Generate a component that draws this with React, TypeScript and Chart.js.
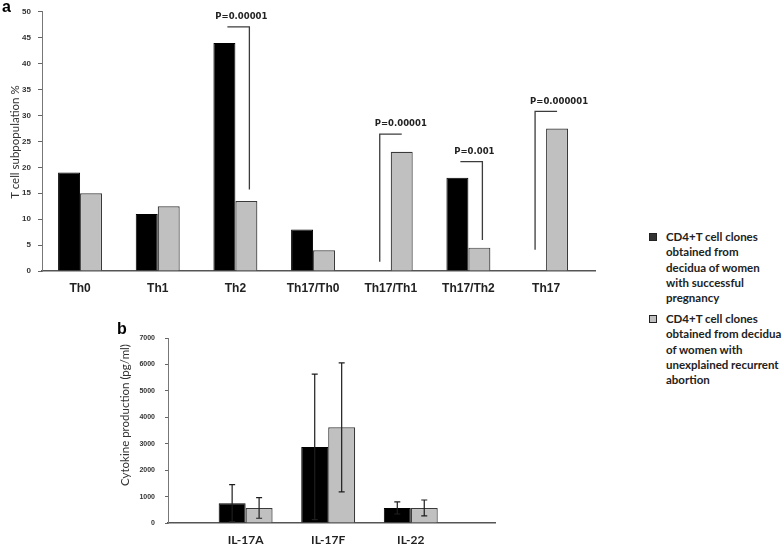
import React, { useEffect, useRef } from 'react';
import { Chart, registerables } from 'chart.js';

Chart.register(...registerables);

// ---------- data: panel a ----------
const subsets = ['Th0', 'Th1', 'Th2', 'Th17/Th0', 'Th17/Th1', 'Th17/Th2', 'Th17'];
const successfulPct = [19, 11, 44, 8, 0, 18, 0];
const abortionPct = [15, 12.5, 13.5, 4, 23, 4.5, 27.5];

// significance brackets (panel a)
const pLabels = ['P=0.00001', 'P=0.00001', 'P=0.001', 'P=0.000001'];
const pSubset = ['Th2', 'Th17/Th1', 'Th17/Th2', 'Th17'];
const pSide = ['abortion', 'successful', 'abortion', 'successful'];
const pTop = [47.1, 26.4, 21.1, 30.8];
const pBottom = [15.7, 1.8, 6.0, 4.1];

// ---------- data: panel b ----------
const cytokines = ['IL-17A', 'IL-17F', 'IL-22'];
const successfulCyto = [750, 2880, 570];
const successfulCytoErr = [700, 2750, 230];
const abortionCyto = [570, 3620, 570];
const abortionCytoErr = [390, 2440, 300];

// ---------- legend ----------
const legendSuccessful = ['CD4+T cell clones', 'obtained from', 'decidua of women', 'with successful', 'pregnancy'];
const legendAbortion = ['CD4+T cell clones', 'obtained from decidua', 'of women with', 'unexplained recurrent', 'abortion'];

const BLACK = '#000000';
const GRAY = '#c0c0c0';
const EDGE = '#3a3a3a';

const bracketPlugin = {
  id: 'pBrackets',
  afterDatasetsDraw(chart: any) {
    const { ctx } = chart;
    const y = chart.scales.y;
    const metaS = chart.getDatasetMeta(0);
    const metaA = chart.getDatasetMeta(1);
    ctx.save();
    pLabels.forEach((label, k) => {
      const i = subsets.indexOf(pSubset[k]);
      const dropRight = pSide[k] === 'abortion';
      const bar = (dropRight ? metaA : metaS).data[i];
      const vx = bar.x + (dropRight ? 3 : 0);
      const hx = dropRight ? vx - 22 : vx + 22;
      const yt = y.getPixelForValue(pTop[k]);
      const yb = y.getPixelForValue(pBottom[k]);
      ctx.strokeStyle = '#3c3c3c';
      ctx.lineWidth = 1.3;
      ctx.beginPath();
      ctx.moveTo(hx, yt);
      ctx.lineTo(vx, yt);
      ctx.lineTo(vx, yb);
      ctx.stroke();
      ctx.font = 'bold 8.5px "DejaVu Sans"';
      ctx.fillStyle = '#222';
      ctx.textBaseline = 'middle';
      if (dropRight) {
        ctx.textAlign = 'center';
        ctx.fillText(label, vx - 8, yt - 10);
      } else {
        ctx.textAlign = 'left';
        ctx.fillText(label, vx - 5, yt - 10);
      }
    });
    ctx.restore();
  },
};

const errorBarPlugin = {
  id: 'errorBars',
  afterDatasetsDraw(chart: any) {
    const { ctx } = chart;
    const y = chart.scales.y;
    const sets: [number, number[], number[]][] = [
      [0, successfulCyto, successfulCytoErr],
      [1, abortionCyto, abortionCytoErr],
    ];
    ctx.save();
    ctx.strokeStyle = '#1e1e1e';
    ctx.lineWidth = 1.2;
    sets.forEach(([d, vals, errs]) => {
      chart.getDatasetMeta(d).data.forEach((bar: any, i: number) => {
        const top = y.getPixelForValue(vals[i] + errs[i]);
        const bot = y.getPixelForValue(Math.max(0, vals[i] - errs[i]));
        const x = bar.x;
        ctx.beginPath();
        ctx.moveTo(x, top);
        ctx.lineTo(x, bot);
        ctx.moveTo(x - 3, top);
        ctx.lineTo(x + 3, top);
        ctx.moveTo(x - 3, bot);
        ctx.lineTo(x + 3, bot);
        ctx.stroke();
      });
    });
    ctx.restore();
  },
};

function PanelA() {
  const ref = useRef<HTMLCanvasElement>(null);
  useEffect(() => {
    const chart = new Chart(ref.current as HTMLCanvasElement, {
      type: 'bar',
      data: {
        datasets: [
          {
            label: legendSuccessful.join(' '),
            data: successfulPct.map((v, i) => ({ x: i, y: v })),
            backgroundColor: BLACK,
            borderColor: BLACK,
            borderWidth: 1,
            categoryPercentage: 0.566,
            barPercentage: 1,
          },
          {
            label: legendAbortion.join(' '),
            data: abortionPct.map((v, i) => ({ x: i, y: v })),
            backgroundColor: GRAY,
            borderColor: EDGE,
            borderWidth: 1.2,
            categoryPercentage: 0.566,
            barPercentage: 1,
          },
        ],
      } as any,
      options: {
        animation: false,
        responsive: false,
        layout: { padding: { left: 0, top: 7, right: 25, bottom: 0 } },
        plugins: { legend: { display: false }, tooltip: { enabled: false } },
        scales: {
          x: {
            type: 'linear',
            offset: false,
            min: -0.49,
            max: 6.63,
            afterBuildTicks: (s: any) => {
              s.ticks = subsets.map((_, i) => ({ value: i }));
            },
            afterFit: (s: any) => {
              s.height = 29;
            },
            grid: { display: false, drawTicks: false, offset: false },
            border: { display: true, color: '#555', width: 1.6 },
            ticks: {
              padding: 10,
              color: '#222',
              font: { family: '"Liberation Sans", Arial', size: 12, weight: 'bold' },
              callback: (v: any) => subsets[v] ?? '',
            },
          },
          y: {
            min: 0,
            max: 50,
            afterFit: (s: any) => {
              s.width = 42;
            },
            grid: { drawOnChartArea: false, drawTicks: true, tickLength: 4, color: '#666' },
            border: { display: true, color: '#777', width: 1 },
            ticks: {
              stepSize: 5,
              padding: 7,
              color: '#333',
              font: { family: '"Liberation Sans", Arial', size: 8, weight: 'bold' },
              callback: (v: any) => String(v),
            },
          },
        },
      } as any,
      plugins: [bracketPlugin],
    });
    return () => chart.destroy();
  }, []);
  return (
    <canvas
      ref={ref}
      width={620}
      height={300}
      style={{ position: 'absolute', left: 0, top: 0, display: 'block' }}
    />
  );
}

function PanelB() {
  const ref = useRef<HTMLCanvasElement>(null);
  useEffect(() => {
    const chart = new Chart(ref.current as HTMLCanvasElement, {
      type: 'bar',
      data: {
        datasets: [
          {
            label: legendSuccessful.join(' '),
            data: successfulCyto.map((v, i) => ({ x: i, y: v })),
            backgroundColor: BLACK,
            borderColor: BLACK,
            borderWidth: 1,
            categoryPercentage: 0.653,
            barPercentage: 1,
          },
          {
            label: legendAbortion.join(' '),
            data: abortionCyto.map((v, i) => ({ x: i, y: v })),
            backgroundColor: GRAY,
            borderColor: EDGE,
            borderWidth: 1.2,
            categoryPercentage: 0.653,
            barPercentage: 1,
          },
        ],
      } as any,
      options: {
        animation: false,
        responsive: false,
        layout: { padding: { left: 0, top: 18, right: 25, bottom: 0 } },
        plugins: { legend: { display: false }, tooltip: { enabled: false } },
        scales: {
          x: {
            type: 'linear',
            offset: false,
            min: -0.94,
            max: 3.02,
            afterBuildTicks: (s: any) => {
              s.ticks = cytokines.map((_, i) => ({ value: i }));
            },
            afterFit: (s: any) => {
              s.height = 24;
            },
            grid: { display: false, drawTicks: false, offset: false },
            border: { display: true, color: '#555', width: 1.6 },
            ticks: {
              padding: 10,
              color: '#222',
              font: { family: 'Lato', size: 12, weight: 'bold' },
              callback: (v: any) => cytokines[v] ?? '',
            },
          },
          y: {
            min: 0,
            max: 7000,
            afterFit: (s: any) => {
              s.width = 68;
            },
            grid: { drawOnChartArea: false, drawTicks: true, tickLength: 3, color: '#666' },
            border: { display: true, color: '#777', width: 1 },
            ticks: {
              stepSize: 1000,
              padding: 10,
              color: '#333',
              font: { family: '"Liberation Sans", Arial', size: 7, weight: 'bold' },
              callback: (v: any) => String(v),
            },
          },
        },
      } as any,
      plugins: [errorBarPlugin],
    });
    return () => chart.destroy();
  }, []);
  return (
    <canvas
      ref={ref}
      width={420}
      height={227}
      style={{ position: 'absolute', left: 100, top: 320, display: 'block' }}
    />
  );
}

function VTitle({ text, cx, cy }: { text: string; cx: number; cy: number }) {
  return (
    <div
      style={{
        position: 'absolute',
        left: cx,
        top: cy,
        transform: 'translate(-50%, -50%) rotate(-90deg)',
        whiteSpace: 'nowrap',
        fontFamily: 'Lato, sans-serif',
        fontSize: 11.5,
        color: '#333',
        lineHeight: 1,
      }}
    >
      {text}
    </div>
  );
}

function LegendItem({ lines, fill, top }: { lines: string[]; fill: string; top: number }) {
  return (
    <div style={{ position: 'absolute', left: 649, top }}>
      <div
        style={{
          position: 'absolute',
          left: 0,
          top: 4,
          width: 6,
          height: 6,
          background: fill,
          border: '1px solid #222',
        }}
      />
      <div
        style={{
          position: 'absolute',
          left: 17,
          top: 0,
          whiteSpace: 'nowrap',
          fontFamily: 'Lato, sans-serif',
          fontWeight: 'bold',
          fontSize: 11.5,
          lineHeight: '15.3px',
          color: '#222',
        }}
      >
        {lines.map((l, i) => (
          <div key={i}>{l}</div>
        ))}
      </div>
    </div>
  );
}

export default function App() {
  return (
    <div
      style={{
        position: 'fixed',
        left: 0,
        top: 0,
        width: 784,
        height: 547,
        background: '#fff',
        overflow: 'hidden',
      }}
    >
      <PanelA />
      <PanelB />
      <div
        style={{
          position: 'absolute',
          left: 2,
          top: -2,
          fontFamily: '"Liberation Sans", Arial',
          fontWeight: 'bold',
          fontSize: 16,
          color: '#000',
        }}
      >
        a
      </div>
      <div
        style={{
          position: 'absolute',
          left: 117,
          top: 320,
          fontFamily: '"Liberation Sans", Arial',
          fontWeight: 'bold',
          fontSize: 16,
          color: '#000',
        }}
      >
        b
      </div>
      <VTitle text="T cell subpopulation %" cx={15} cy={142} />
      <VTitle text="Cytokine production (pg/ml)" cx={125} cy={415} />
      <LegendItem lines={legendSuccessful} fill="#333" top={229} />
      <LegendItem lines={legendAbortion} fill={GRAY} top={311} />
    </div>
  );
}
